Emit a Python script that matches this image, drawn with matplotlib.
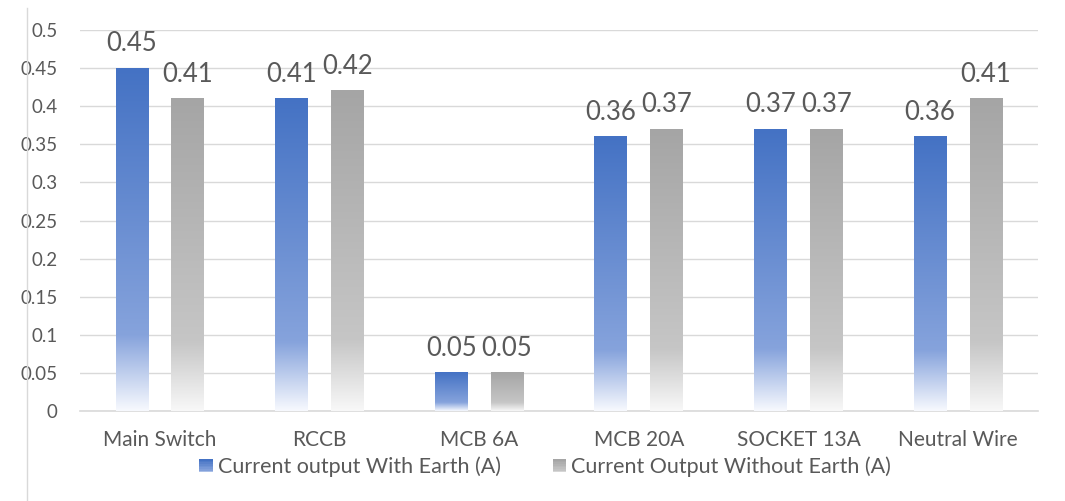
import numpy as np
import matplotlib
matplotlib.use("Agg")
import matplotlib.pyplot as plt
from matplotlib.colors import LinearSegmentedColormap
from matplotlib.patches import Rectangle
from matplotlib.legend_handler import HandlerBase
from matplotlib.lines import Line2D

categories = ["Main Switch", "RCCB", "MCB 6A", "MCB 20A", "SOCKET 13A", "Neutral Wire"]
with_earth = [0.45, 0.41, 0.05, 0.36, 0.37, 0.36]
without_earth = [0.41, 0.42, 0.05, 0.37, 0.37, 0.41]
series_names = ["Current output With Earth (A)", "Current Output Without Earth (A)"]
yticks = [0, 0.05, 0.1, 0.15, 0.2, 0.25, 0.3, 0.35, 0.4, 0.45, 0.5]
ytick_labels = ["0", "0.05", "0.1", "0.15", "0.2", "0.25", "0.3", "0.35", "0.4", "0.45", "0.5"]

plt.rcParams['font.family'] = ['Lato', 'DejaVu Sans']
TXT = "#595959"

blue_cmap = LinearSegmentedColormap.from_list(
    "b", [(0.0, "#4472C4"), (0.78, "#86A3DC"), (1.0, "#F7F9FE")])
grey_cmap = LinearSegmentedColormap.from_list(
    "g", [(0.0, "#A5A5A5"), (0.78, "#C6C6C6"), (1.0, "#F8F8F8")])

fig = plt.figure(figsize=(10.65, 5.01), dpi=100)
ax = fig.add_axes([0.0751, 0.1796, 0.8995, 0.7605])

x = np.arange(len(categories))
w = 0.205
off = 0.175
grad = np.linspace(0, 1, 256).reshape(-1, 1)

def gradient_bars(xpos, vals, cmap):
    bars = ax.bar(xpos, vals, w, facecolor="none", edgecolor="none", zorder=3)
    for b in bars:
        x0, wd, h = b.get_x(), b.get_width(), b.get_height()
        ax.imshow(grad, cmap=cmap, aspect="auto", extent=(x0, x0 + wd, 0, h),
                  origin="upper", zorder=3, interpolation="bicubic")
        ax.annotate(f"{h:.2f}", (x0 + wd / 2, h), xytext=(0, 8.5),
                    textcoords="offset points", ha="center", va="bottom",
                    fontsize=18.5, color=TXT, zorder=5)
    return bars

gradient_bars(x - off, with_earth, blue_cmap)
gradient_bars(x + off, without_earth, grey_cmap)

ax.set_xlim(-0.5, len(categories) - 0.5)
ax.set_ylim(0, 0.5)
ax.set_yticks(yticks)
ax.set_yticklabels(ytick_labels)
ax.set_xticks(x)
ax.set_xticklabels(categories)
ax.tick_params(axis="y", length=0, pad=16, labelsize=13.5, labelcolor=TXT)
ax.tick_params(axis="x", length=0, pad=14, labelsize=15, labelcolor=TXT)
ax.grid(axis="y", color="#D9D9D9", linewidth=1, zorder=0)
ax.set_axisbelow(True)
for s in ["top", "right", "left"]:
    ax.spines[s].set_visible(False)
ax.spines["bottom"].set_color("#D9D9D9")
ax.spines["bottom"].set_linewidth(1.2)

class GradHandler(HandlerBase):
    def __init__(self, cmap):
        super().__init__()
        self.cmap = cmap
    def create_artists(self, legend, orig_handle, xdescent, ydescent, width, height, fontsize, trans):
        arts = []
        n = 8
        side = min(width, height)
        x0 = width - side
        y0 = (height - side) / 2
        for i in range(n):
            c = self.cmap(i / (n - 1) * 0.85)
            r = Rectangle((x0 - xdescent, y0 - ydescent + side - (i + 1) * side / n),
                          side, side / n + 0.05, facecolor=c, edgecolor="none",
                          transform=trans)
            arts.append(r)
        return arts

h1 = Rectangle((0, 0), 1, 1)
h2 = Rectangle((0, 0), 1, 1)
fig.legend([h1, h2], series_names, loc="center", bbox_to_anchor=(0.512, 0.068),
           ncol=2, frameon=False, fontsize=15.5, labelcolor=TXT,
           handler_map={h1: GradHandler(blue_cmap), h2: GradHandler(grey_cmap)},
           handlelength=0.62, handleheight=0.62, handletextpad=0.25, columnspacing=2.4)

fig.add_artist(Line2D([27 / 1065, 27 / 1065], [0.0, 0.985], transform=fig.transFigure,
                      color="#D9D9D9", linewidth=1))

fig.savefig("out.png", dpi=100, facecolor="white")
